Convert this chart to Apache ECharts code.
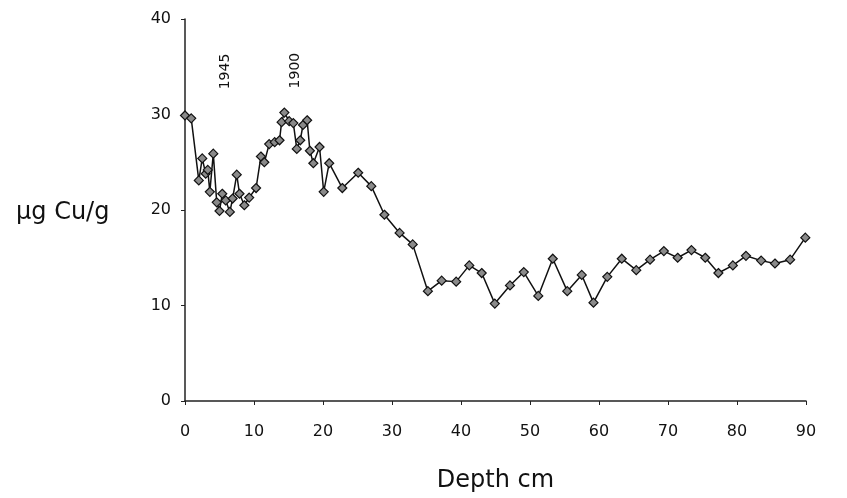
<!DOCTYPE html>
<html>
<head>
<meta charset="utf-8">
<script src="https://cdn.jsdelivr.net/npm/echarts@6/dist/echarts.min.js"></script>
<style>
  html, body { margin: 0; padding: 0; background: #fff; }
  #cuDepth { width: 847px; height: 498px; }
</style>
</head>
<body>
<div id="cuDepth"></div>
<script>
  // depth (cm) and copper (ug/g)
  const depth = [0, 0.9, 2.0, 2.5, 3.0, 3.3, 3.6, 4.1, 4.6, 5.0, 5.4, 5.9, 6.5, 6.9, 7.5, 7.9, 8.6, 9.3,
    10.3, 11.0, 11.5, 12.2, 13.0, 13.7, 14.0, 14.4, 15.1, 15.7, 16.2, 16.7, 17.1, 17.7, 18.1, 18.6,
    19.5, 20.1, 20.9, 22.8, 25.1, 27.0, 28.9, 31.1, 33.0, 35.2, 37.2, 39.3, 41.2, 43.0, 44.9, 47.1,
    49.1, 51.2, 53.3, 55.4, 57.5, 59.2, 61.2, 63.3, 65.4, 67.4, 69.4, 71.4, 73.4, 75.4, 77.3, 79.4,
    81.3, 83.5, 85.5, 87.7, 89.9]
  const cu = [29.9, 29.6, 23.1, 25.4, 23.8, 24.2, 21.9, 25.9, 20.8, 19.9, 21.7, 21.0, 19.8, 21.2, 23.7, 21.7, 20.5, 21.3,
    22.3, 25.6, 25.0, 26.9, 27.1, 27.3, 29.2, 30.2, 29.3, 29.1, 26.4, 27.3, 28.9, 29.4, 26.2, 24.9,
    26.6, 21.9, 24.9, 22.3, 23.9, 22.5, 19.5, 17.6, 16.4, 11.5, 12.6, 12.5, 14.2, 13.4, 10.2, 12.1,
    13.5, 11.0, 14.9, 11.5, 13.2, 10.3, 13.0, 14.9, 13.7, 14.8, 15.7, 15.0, 15.8, 15.0, 13.4, 14.2,
    15.2, 14.7, 14.4, 14.8, 17.1]
  // dated horizons
  const dates = [{ year: '1945', depth: 5.9, y: 34.5 }, { year: '1900', depth: 16.0, y: 34.6 }]

  const font = 'DejaVu Sans, sans-serif'
  let myChart = echarts.init(document.getElementById('cuDepth'))

  let points = depth.map((d, i) => [d, cu[i]])

  let option = {
    backgroundColor: '#fff',
    animation: false,
    grid: { left: 185, right: 41, top: 19, bottom: 91 },
    graphic: [{
      type: 'text',
      left: 16,
      top: 201,
      style: { text: 'µg Cu/g', font: '24px ' + font, fill: '#111' }
    }],
    xAxis: {
      type: 'value',
      min: 0,
      max: 90,
      interval: 10,
      name: 'Depth cm',
      nameLocation: 'middle',
      nameGap: 68,
      nameTextStyle: { fontFamily: font, fontSize: 24, color: '#111' },
      axisLine: { lineStyle: { color: '#222', width: 1.5 } },
      axisTick: { show: true, length: 4, lineStyle: { color: '#222' } },
      axisLabel: { margin: 23, fontFamily: font, fontSize: 16, color: '#111' },
      splitLine: { show: false }
    },
    yAxis: {
      type: 'value',
      min: 0,
      max: 40,
      interval: 10,
      axisLine: { show: true, lineStyle: { color: '#222', width: 1.5 } },
      axisTick: { show: true, length: 4, lineStyle: { color: '#222' } },
      axisLabel: { margin: 14, fontFamily: font, fontSize: 16, color: '#111' },
      splitLine: { show: false }
    },
    series: [{
      type: 'line',
      data: points,
      symbol: 'diamond',
      symbolSize: 9,
      lineStyle: { color: '#111', width: 1.5 },
      itemStyle: { color: '#8a8a8a', borderColor: '#111', borderWidth: 1.2 },
      markPoint: {
        symbol: 'circle',
        symbolSize: 0,
        label: {
          show: true,
          rotate: 90,
          fontFamily: font,
          fontSize: 14,
          color: '#111',
          formatter: p => p.name
        },
        data: dates.map(d => ({ name: d.year, coord: [d.depth, d.y] }))
      }
    }]
  }

  myChart.setOption(option, true)
</script>
</body>
</html>
